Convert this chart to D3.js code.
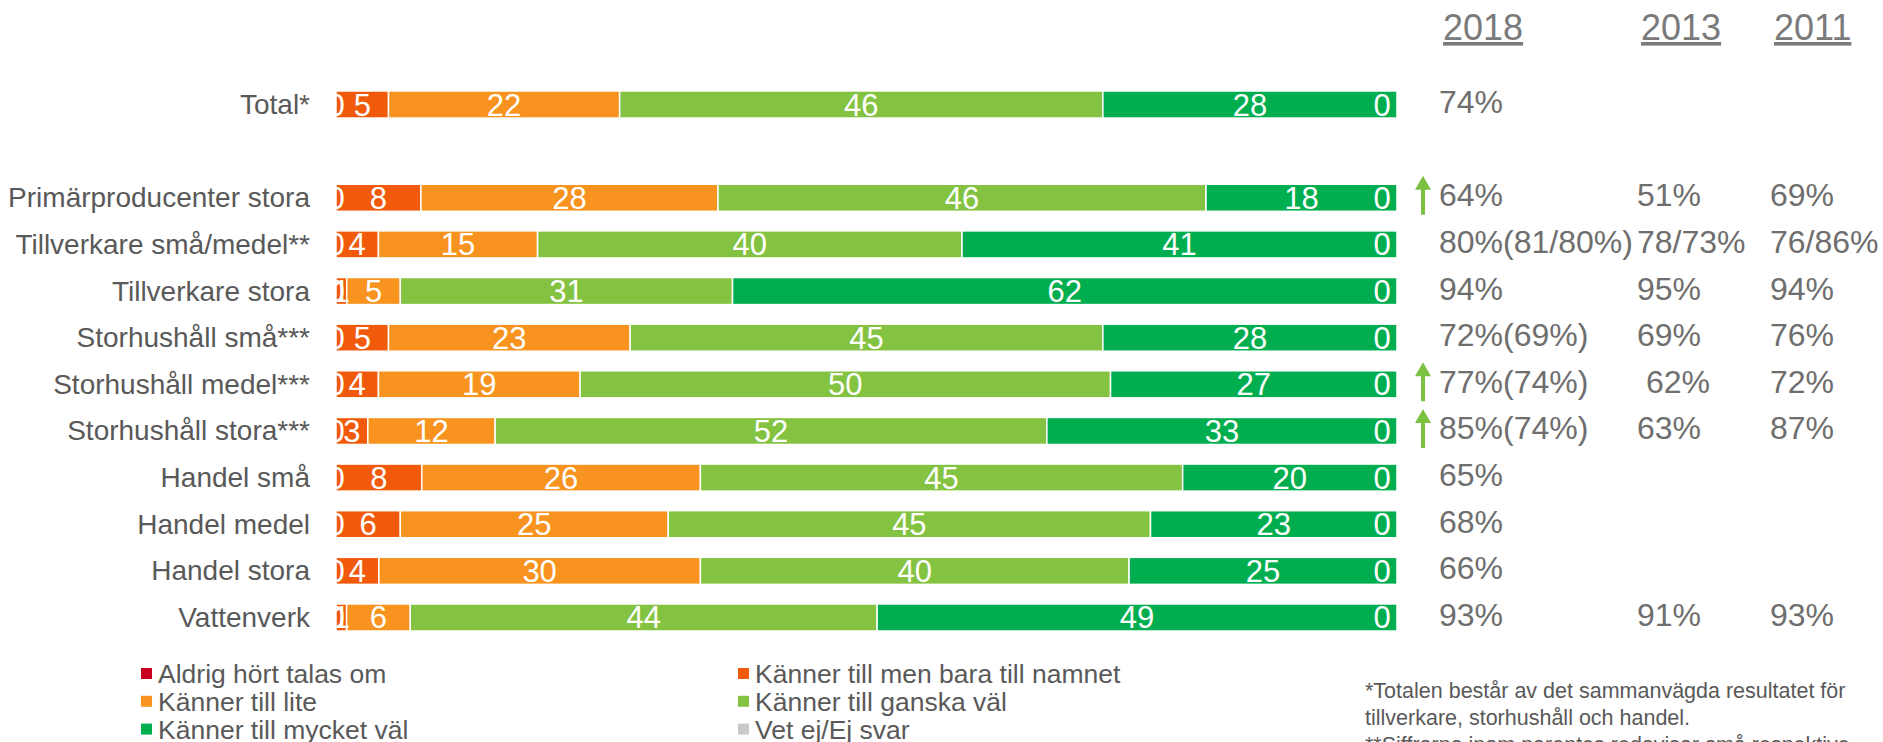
<!DOCTYPE html>
<html>
<head>
<meta charset="utf-8">
<script src="https://cdn.jsdelivr.net/npm/d3@7"></script>
<style>
  html, body { margin: 0; padding: 0; background: #fff; }
  svg { display: block; font-family: Arial, "Liberation Sans", sans-serif; }
</style>
</head>
<body>
<svg id="chart" width="1883" height="742"></svg>
<script>
// Response categories (stack order, left to right)
const seriesNames = [
  "Aldrig hört talas om",
  "Känner till men bara till namnet",
  "Känner till lite",
  "Känner till ganska väl",
  "Känner till mycket väl",
  "Vet ej/Ej svar"
];
const seriesColors = ["#C8001E", "#F15A0B", "#F7931E", "#84C341", "#00AE4F", "#C9C9C9"];

// Rows (the empty string is a spacer row under Total)
const categories = [
  "Total*", "",
  "Primärproducenter stora",
  "Tillverkare små/medel**",
  "Tillverkare stora",
  "Storhushåll små***",
  "Storhushåll medel***",
  "Storhushåll stora***",
  "Handel små",
  "Handel medel",
  "Handel stora",
  "Vattenverk"
];

// Percent per response category, one array per series, aligned with categories
const aldrig    = [0, null, 0, 0, 0, 0, 0, 0, 0, 0, 0, 0];
const baraNamn  = [5, null, 8, 4, 1, 5, 4, 3, 8, 6, 4, 1];
const lite      = [22, null, 28, 15, 5, 23, 19, 12, 26, 25, 30, 6];
const ganska    = [46, null, 46, 40, 31, 45, 50, 52, 45, 45, 40, 44];
const mycket    = [28, null, 18, 41, 62, 28, 27, 33, 20, 23, 25, 49];
const vetEj     = [0, null, 0, 0, 0, 0, 0, 0, 0, 0, 0, 0];
const seriesValues = [aldrig, baraNamn, lite, ganska, mycket, vetEj];

// Share that knows the term well, by survey year
const yearLabels = ["2018", "2013", "2011"];
const share2018 = ["74%", "", "64%", "80%(81/80%)", "94%", "72%(69%)", "77%(74%)", "85%(74%)", "65%", "68%", "66%", "93%"];
const share2013 = ["", "", "51%", "78/73%", "95%", "69%", " 62%", "63%", "", "", "", "91%"];
const share2011 = ["", "", "69%", "76/86%", "94%", "76%", "72%", "87%", "", "", "", "93%"];
const risingSince2013 = [false, false, true, false, false, false, true, true, false, false, false, false];

const footnotes = [
  "*Totalen består av det sammanvägda resultatet för",
  "tillverkare, storhushåll och handel.",
  "**Siffrorna inom parentes redovisar små respektive"
];

// ---------------------------------------------------------------
const svg = d3.select("#chart");
const plot = { left: 336, right: 1397, top: 81.2, bottom: 640.8 };

const rows = categories.map((c, i) => {
  const r = { key: i, name: c };
  seriesNames.forEach((s, j) => { r[s] = seriesValues[j][i] == null ? 0 : seriesValues[j][i]; });
  return r;
});
const dataRows = rows.filter(r => r.name !== "");

const y = d3.scaleBand()
  .domain(rows.map(r => r.key))
  .range([plot.top, plot.bottom])
  .paddingInner(0.42)
  .paddingOuter(0.21);

const x = d3.scaleLinear().domain([0, 1]).range([plot.left, plot.right]);

const stack = d3.stack().keys(seriesNames).offset(d3.stackOffsetExpand);
const layers = stack(dataRows);

svg.append("defs").append("clipPath").attr("id", "plotClip")
  .append("rect")
  .attr("x", plot.left).attr("y", 0)
  .attr("width", plot.right - plot.left + 10).attr("height", 742);

// Stacked bars
const barG = svg.append("g");
barG.selectAll("g.layer")
  .data(layers)
  .join("g")
  .attr("class", "layer")
  .attr("fill", (d, i) => seriesColors[i])
  .selectAll("rect")
  .data(d => d)
  .join("rect")
  .attr("x", d => x(d[0]))
  .attr("y", d => y(d.data.key))
  .attr("width", d => Math.max(0, x(d[1]) - x(d[0])))
  .attr("height", y.bandwidth())
  .attr("stroke", "#fff")
  .attr("stroke-width", 1.5);

// Value labels inside the bars
const labelG = svg.append("g").attr("clip-path", "url(#plotClip)");
layers.forEach((layer, i) => {
  labelG.append("g")
    .selectAll("text")
    .data(layer)
    .join("text")
    .attr("x", d => Math.min((x(d[0]) + x(d[1])) / 2, plot.right - 15))
    .attr("y", d => y(d.data.key) + y.bandwidth() / 2 + 11)
    .attr("text-anchor", "middle")
    .attr("fill", "#fff")
    .attr("font-size", 31)
    .text(d => d.data[seriesNames[i]]);
});

// Category axis
const yAxis = d3.axisLeft(y)
  .tickSize(0)
  .tickPadding(26)
  .tickFormat(k => categories[k]);
const axisG = svg.append("g")
  .attr("transform", `translate(${plot.left},0)`)
  .call(yAxis);
axisG.select(".domain").remove();
axisG.selectAll("text")
  .attr("font-size", 28)
  .attr("font-family", "Arial, 'Liberation Sans', sans-serif")
  .attr("fill", "#595959")
  .attr("dy", "0.34em");

// Year columns
const yearCols = [
  { x: 1441, header: yearLabels[0], values: share2018 },
  { x: 1639, header: yearLabels[1], values: share2013 },
  { x: 1772, header: yearLabels[2], values: share2011 }
];
yearCols.forEach(col => {
  svg.append("text")
    .attr("x", col.x + 2)
    .attr("y", 40)
    .attr("font-size", 36)
    .attr("fill", "#7a7a7a")
    .attr("text-decoration", "underline")
    .text(col.header);
  svg.append("g")
    .selectAll("text")
    .data(rows.filter(r => col.values[r.key] !== ""))
    .join("text")
    .attr("x", col.x - 2)
    .attr("y", r => y(r.key) + y.bandwidth() / 2 + 8.5)
    .attr("font-size", 32)
    .attr("fill", "#6e6e6e")
    .attr("xml:space", "preserve")
    .style("white-space", "pre")
    .text(r => col.values[r.key]);
});

// Upward trend arrows
const arrowX = 1423;
svg.append("g")
  .selectAll("path")
  .data(rows.filter(r => risingSince2013[r.key]))
  .join("path")
  .attr("fill", "#7DC142")
  .attr("d", r => {
    const c = y(r.key) + y.bandwidth() / 2;
    const top = c - 22, bottom = c + 17, head = top + 14;
    return `M${arrowX},${top} L${arrowX + 8},${head} L${arrowX + 2},${head} L${arrowX + 2},${bottom}` +
           ` L${arrowX - 2},${bottom} L${arrowX - 2},${head} L${arrowX - 8},${head} Z`;
  });

// Legend
const legend = svg.append("g");
const legendItems = legend.selectAll("g")
  .data(seriesNames)
  .join("g")
  .attr("transform", (d, i) => `translate(${i % 2 === 0 ? 141 : 738},${674 + Math.floor(i / 2) * 27.8})`);
legendItems.append("rect")
  .attr("x", 0).attr("y", -6)
  .attr("width", 11).attr("height", 11)
  .attr("fill", (d, i) => seriesColors[i]);
legendItems.append("text")
  .attr("x", 17).attr("y", 9)
  .attr("font-size", 26.5)
  .attr("fill", "#595959")
  .text(d => d);

// Footnotes
svg.append("g")
  .selectAll("text")
  .data(footnotes)
  .join("text")
  .attr("x", 1365)
  .attr("y", (d, i) => 698 + i * 27)
  .attr("font-size", 21.5)
  .attr("fill", "#595959")
  .text(d => d);
</script>
</body>
</html>
